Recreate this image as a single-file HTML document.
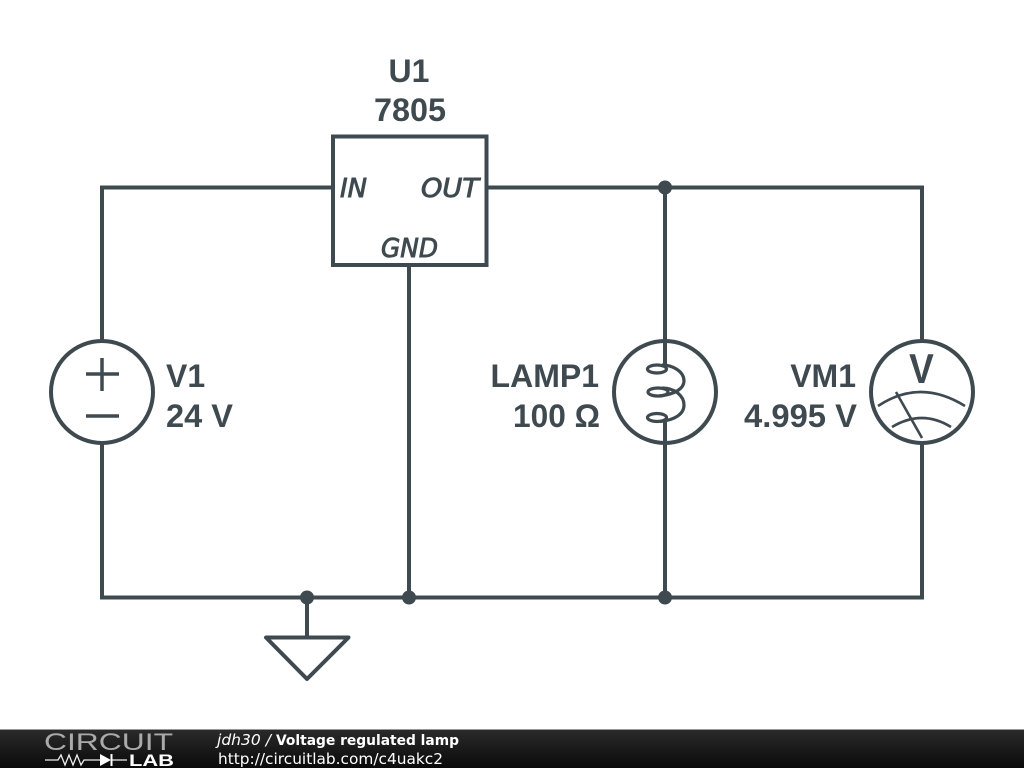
<!DOCTYPE html>
<html><head><meta charset="utf-8"><style>
html,body{margin:0;padding:0;background:#fff;width:1024px;height:768px;overflow:hidden}
svg{display:block}
.w{fill:none;stroke:#3f4a50;stroke-width:4}
.t{fill:#3f4a50;font-family:"Liberation Sans",sans-serif;font-weight:bold;font-size:32px}
.p{fill:#3f4a50;font-family:"DejaVu Sans",sans-serif;font-style:oblique;font-size:26px;stroke:#3f4a50;stroke-width:.9}
</style></head><body>
<svg width="1024" height="768" viewBox="0 0 1024 768" xmlns="http://www.w3.org/2000/svg">
<defs><linearGradient id="g" x1="0" y1="0" x2="0" y2="1"><stop offset="0" stop-color="#2b2b2b"/><stop offset="1" stop-color="#0a0a0a"/></linearGradient></defs>
<rect width="1024" height="768" fill="#fff"/>
<g class="w">
<path d="M332 187.500H102V342M102 442V597.500H922V442M922 342V187.500H487"/>
<path d="M409 265V597M665 187V365M665 421V597M307 597V637"/>
<rect x="333" y="136.500" width="153.500" height="128.500"/>
<circle cx="102" cy="392" r="51"/>
<circle cx="665" cy="392" r="51"/>
<circle cx="922" cy="392" r="51"/>
<path d="M266 637.500H348.500L307 679Z" stroke-linejoin="round"/>
<path d="M86 374H119M102 358V391M86 416H119" stroke-width="3.500"/>
<g stroke-width="3.200">
<ellipse cx="657" cy="369" rx="9.500" ry="4"/>
<ellipse cx="658" cy="392" rx="10" ry="4"/>
<ellipse cx="657" cy="417.500" rx="9.500" ry="4"/>
<path d="M662 365C672 365 684 371 684 381C684 388 676 394 660 396M662 388C675 388 684 396 684 405C684 414 675 420 660 421.500"/>
</g>
<path d="M878 406Q920 378 965 406M892 427Q922 409 951 427M896 392L922 438" stroke-width="2.600"/>
</g>
<g fill="#3f4a50">
<circle cx="665" cy="187.500" r="7"/><circle cx="307" cy="597.500" r="7"/><circle cx="409" cy="597.500" r="7"/><circle cx="665" cy="597.500" r="7"/>
</g>
<text class="t" x="409" y="82" text-anchor="middle">U1</text>
<text class="t" x="374" y="121" textLength="72" lengthAdjust="spacingAndGlyphs">7805</text>
<text class="t" x="166" y="387">V1</text>
<text class="t" x="166" y="427" textLength="67" lengthAdjust="spacingAndGlyphs">24 V</text>
<text class="t" x="599" y="387" text-anchor="end">LAMP1</text>
<text class="t" x="513" y="427" textLength="87" lengthAdjust="spacingAndGlyphs">100 Ω</text>
<text class="t" x="856" y="387" text-anchor="end">VM1</text>
<text class="t" x="744" y="427" textLength="113" lengthAdjust="spacingAndGlyphs">4.995 V</text>
<text class="t" transform="translate(921.500 383) scale(.88 1)" text-anchor="middle" style="font-size:42px">V</text>
<text class="p" x="340" y="197" textLength="27" lengthAdjust="spacingAndGlyphs">IN</text>
<text class="p" x="421" y="197" textLength="58" lengthAdjust="spacingAndGlyphs">OUT</text>
<text class="p" x="381" y="257" textLength="57" lengthAdjust="spacingAndGlyphs">GND</text>
<rect y="729" width="1024" height="39" fill="url(#g)"/>
<rect y="729" width="1024" height="1" fill="#999"/>
<text x="44" y="750" font-family="Liberation Sans,sans-serif" font-size="24" fill="#aaa" textLength="129" lengthAdjust="spacingAndGlyphs">CIRCUIT</text>
<path d="M45 760H58L61 755L65 765L69 755L73 765L77 755L81 765L84 760H100M111 760H127" fill="none" stroke="#eee" stroke-width="1.300"/>
<path d="M100 754V766L111 760ZM110.500 754H112.500V766H110.500Z" fill="#fff"/>
<text x="129" y="766" font-family="Liberation Sans,sans-serif" font-weight="bold" font-size="17" fill="#fff" textLength="45" lengthAdjust="spacingAndGlyphs">LAB</text>
<text x="217" y="745" font-family="DejaVu Sans,sans-serif" font-size="15" fill="#fff" font-style="oblique" textLength="54" lengthAdjust="spacingAndGlyphs">jdh30 /</text>
<text x="276" y="745" font-family="DejaVu Sans,sans-serif" font-size="14" font-weight="bold" fill="#fff" textLength="183" lengthAdjust="spacingAndGlyphs">Voltage regulated lamp</text>
<text x="218" y="764" font-family="DejaVu Sans,sans-serif" font-size="15.400" fill="#fff" textLength="225" lengthAdjust="spacingAndGlyphs">http://circuitlab.com/c4uakc2</text>
</svg>
</body></html>
